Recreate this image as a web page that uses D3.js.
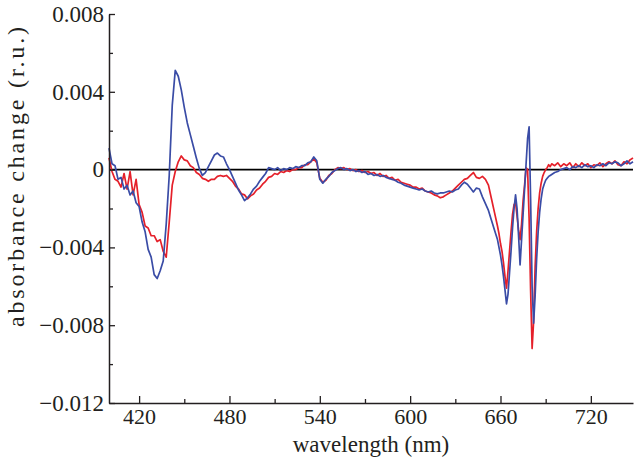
<!DOCTYPE html>
<html><head><meta charset="utf-8">
<script src="https://cdn.jsdelivr.net/npm/d3@7"></script>
<style>
html,body{margin:0;padding:0;background:#fff;}
svg text{font-family:"Liberation Serif","Times New Roman",serif;fill:#231f20;}
</style></head>
<body><svg id="c" width="635" height="460"></svg>
<script>
// ---------- data ----------
const wavelengths = [
400,402,404,406,408,410,412,414,416,418,420,422,424,426,428,430,432,434,436,438,
440,442,444,446,448,450,452,454,456,458,460,462,464,466,468,470,472,474,476,478,
480,482,484,486,488,490,492,494,496,498,500,502,504,506,508,510,512,514,516,518,
520,522,524,526,528,530,532,534,536,538,540,542,544,546,548,550,552,554,556,558,
560,562,564,566,568,570,572,574,576,578,580,582,584,586,588,590,592,594,596,598,
600,602,604,606,608,610,612,614,616,618,620,622,624,626,628,630,632,634,636,638,
640,642,644,646,648,650,652,654,656,658,
659,660,661,662,663,664,665,666,667,668,669,670,671,672,673,674,675,676,677,678,
679,680,681,682,683,684,685,686,687,688,689,690,691,692,693,694,
696,698,700,702,704,706,708,710,712,714,716,718,720,722,724,726,728,730,732,734,
736,738,740,742,744,746,748];

// absorbance change, units of 1e-3 r.u.
const redSeries = [
0.6,-0.1,-0.5,-0.6,-0.9,-0.2,-1.0,-0.1,-1.3,-0.5,-1.8,-2.2,-2.9,-3.0,-3.4,-3.4,-3.7,-3.6,-4.2,-4.5,
-2.7,-0.8,-0.1,0.4,0.7,0.5,0.45,0.2,0.1,-0.15,-0.25,-0.45,-0.5,-0.6,-0.5,-0.5,-0.35,-0.3,-0.35,-0.3,
-0.45,-0.6,-0.85,-1.0,-1.25,-1.3,-1.5,-1.35,-1.25,-1.05,-0.95,-0.75,-0.6,-0.4,-0.35,-0.2,-0.25,-0.1,-0.15,-0.05,
-0.1,0.0,0.0,0.1,0.1,0.25,0.25,0.4,0.55,0.35,-0.45,-0.65,-0.55,-0.3,-0.2,0.0,0.1,0.05,0.1,0.0,
0.05,-0.05,0.0,-0.1,-0.05,-0.15,-0.1,-0.2,-0.15,-0.3,-0.2,-0.35,-0.3,-0.45,-0.4,-0.55,-0.5,-0.65,-0.7,-0.75,
-0.8,-0.9,-0.9,-1.0,-0.95,-1.1,-1.15,-1.2,-1.3,-1.35,-1.45,-1.4,-1.3,-1.2,-1.1,-0.95,-0.8,-0.65,-0.5,-0.45,
-0.3,-0.15,-0.4,-0.45,-0.35,-0.5,-0.8,-1.5,-2.2,-2.9,
-3.3,-3.8,-4.2,-4.8,-5.5,-6.1,-5.2,-4.2,-3.2,-2.3,-1.8,-1.7,-2.4,-3.1,-3.6,-2.8,-1.6,-0.8,0.1,0.0,
-2.5,-6.2,-9.2,-7.8,-5.0,-3.2,-2.0,-1.2,-0.7,-0.35,-0.15,0.0,0.1,0.25,0.15,0.3,
0.2,0.35,0.15,0.3,0.2,0.35,0.1,0.3,0.15,0.35,0.2,0.3,0.1,0.25,0.2,0.35,0.15,0.3,0.4,0.3,
0.45,0.25,0.2,0.4,0.3,0.5,0.6];

const blueSeries = [
1.1,0.3,0.2,-0.5,-0.4,-1.0,-0.8,-1.3,-1.1,-1.7,-1.9,-2.7,-3.2,-4.1,-4.5,-5.4,-5.6,-5.2,-4.7,-2.8,
-0.3,3.3,5.1,4.8,4.1,3.2,2.4,1.8,1.2,0.6,0.05,-0.3,-0.15,0.15,0.45,0.75,0.85,0.7,0.65,0.3,
0.0,-0.35,-0.7,-1.05,-1.3,-1.6,-1.45,-1.25,-1.0,-0.85,-0.6,-0.4,-0.2,0.1,0.05,0.0,0.1,-0.05,0.05,0.0,
0.1,0.05,0.15,0.1,0.2,0.2,0.35,0.4,0.65,0.45,-0.5,-0.7,-0.5,-0.35,-0.15,-0.05,0.05,0.1,0.0,0.05,
-0.05,0.0,-0.1,-0.05,-0.15,-0.1,-0.25,-0.2,-0.3,-0.25,-0.35,-0.3,-0.4,-0.45,-0.5,-0.55,-0.65,-0.7,-0.8,-0.85,
-0.9,-0.95,-1.0,-1.05,-1.0,-1.1,-1.15,-1.1,-1.2,-1.25,-1.2,-1.2,-1.15,-1.1,-1.15,-1.05,-1.0,-0.8,-0.65,-0.75,
-0.95,-1.15,-0.95,-1.0,-1.4,-1.75,-2.1,-2.6,-3.1,-3.6,
-4.0,-4.4,-4.9,-5.5,-6.2,-6.9,-6.4,-5.3,-4.2,-3.0,-2.0,-1.3,-2.0,-3.4,-4.9,-3.6,-2.3,-1.0,0.3,1.6,
2.2,-1.5,-6.0,-7.9,-6.5,-4.6,-3.2,-2.2,-1.5,-1.0,-0.75,-0.55,-0.45,-0.35,-0.3,-0.25,
-0.15,-0.1,0.0,0.05,0.1,0.0,0.15,0.1,0.2,0.1,0.25,0.15,0.2,0.1,0.25,0.2,0.3,0.2,0.35,0.3,
0.4,0.35,0.2,0.3,0.45,0.3,0.4];

const xTicksMajor = [420,480,540,600,660,720];
const xTicksMinor = [450,510,570,630,690];
const yTicksMajor = [-0.012,-0.008,-0.004,0,0.004,0.008];
const yTickLabels = ["\u22120.012","\u22120.008","\u22120.004","0","0.004","0.008"];
const yTicksMinor = [-0.010,-0.006,-0.002,0.002,0.006];
const xTitle = "wavelength (nm)";
const yTitle = "absorbance change (r.u.)";

// ---------- chart ----------
const svg = d3.select("#c");
const x = d3.scaleLinear().domain([400,748]).range([109,633]);
const y = d3.scaleLinear().domain([-0.012,0.008]).range([403,14]);

const line = d3.line()
  .x(d => x(d[0]))
  .y(d => y(d[1]*1e-3));

const redData = wavelengths.map((w,i)=>[w,redSeries[i]]);
const blueData = wavelengths.map((w,i)=>[w,blueSeries[i]]);

// zero line
svg.append("line")
  .attr("x1",x(400)).attr("x2",x(748))
  .attr("y1",y(0)).attr("y2",y(0))
  .attr("stroke","#000").attr("stroke-width",1.6);

svg.append("path").datum(redData)
  .attr("d",line).attr("fill","none")
  .attr("stroke","#e5202a").attr("stroke-width",1.7).attr("stroke-linejoin","round");
svg.append("path").datum(blueData)
  .attr("d",line).attr("fill","none")
  .attr("stroke","#3a4ca6").attr("stroke-width",1.7).attr("stroke-linejoin","round");

// x axis
const xAxis = d3.axisBottom(x).tickValues(xTicksMajor).tickSize(-7).tickSizeOuter(0)
  .tickPadding(5).tickFormat(d3.format("d"));
const gx = svg.append("g").attr("transform",`translate(0,${y(-0.012)})`).call(xAxis);
gx.selectAll("text").attr("font-size",22).attr("fill","#231f20").attr("font-family","Liberation Serif");
gx.select(".domain").attr("stroke","#231f20").attr("stroke-width",1.5);
gx.selectAll(".tick line").attr("stroke","#231f20").attr("stroke-width",1.3);
const gxm = svg.append("g").attr("transform",`translate(0,${y(-0.012)})`)
  .call(d3.axisBottom(x).tickValues(xTicksMinor).tickSize(-4).tickFormat(""));
gxm.select(".domain").remove();
gxm.selectAll(".tick line").attr("stroke","#231f20").attr("stroke-width",1.3);

// y axis
const yAxis = d3.axisLeft(y).tickValues(yTicksMajor).tickSize(-6).tickSizeOuter(0)
  .tickPadding(5).tickFormat((d,i)=>yTickLabels[i]);
const gy = svg.append("g").attr("transform",`translate(${x(400)},0)`).call(yAxis);
gy.selectAll("text").attr("font-size",23).attr("fill","#231f20").attr("font-family","Liberation Serif");
gy.select(".domain").attr("stroke","#231f20").attr("stroke-width",1.5);
gy.selectAll(".tick line").attr("stroke","#231f20").attr("stroke-width",1.3);
const gym = svg.append("g").attr("transform",`translate(${x(400)},0)`)
  .call(d3.axisLeft(y).tickValues(yTicksMinor).tickSize(-4).tickFormat(""));
gym.select(".domain").remove();
gym.selectAll(".tick line").attr("stroke","#231f20").attr("stroke-width",1.3);

// titles
svg.append("text").attr("x",371).attr("y",452).attr("text-anchor","middle")
  .attr("font-size",23).text(xTitle);
svg.append("text").attr("transform",`translate(24,177) rotate(-90)`)
  .attr("text-anchor","middle").attr("font-size",24)
  .attr("textLength",300).attr("lengthAdjust","spacing").text(yTitle);
</script></body></html>
